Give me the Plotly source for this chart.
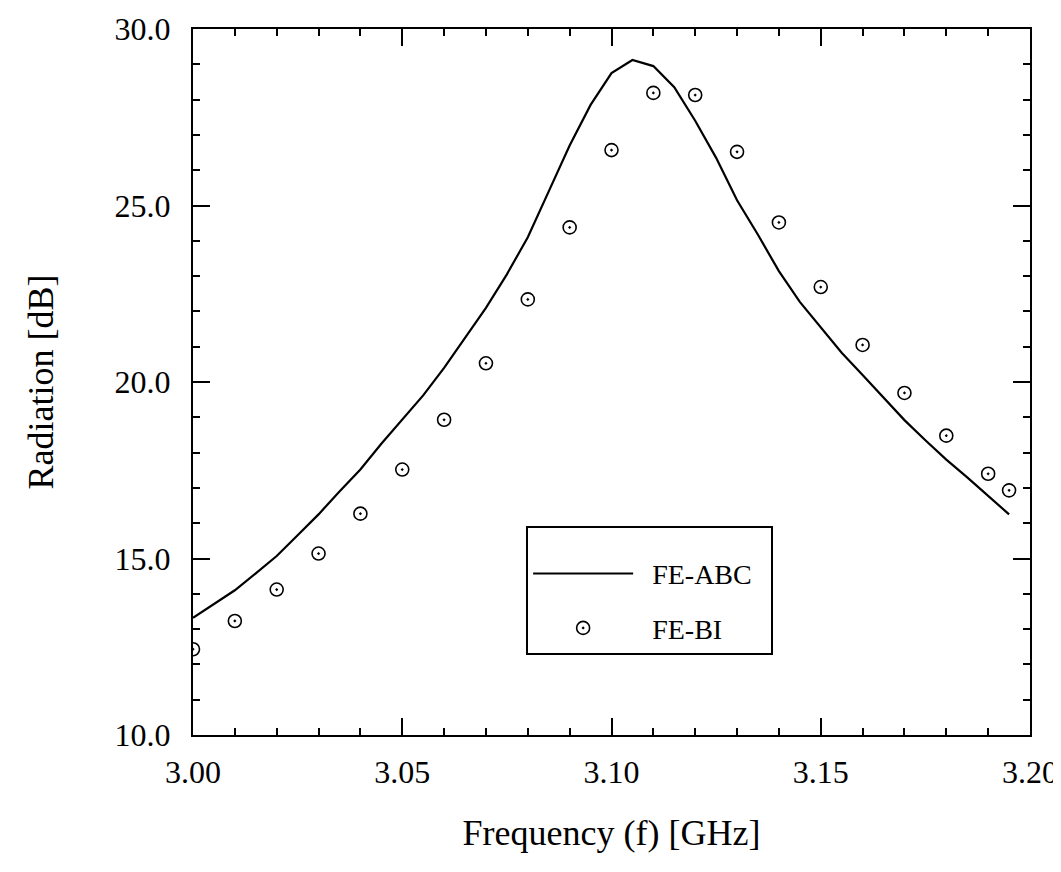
import plotly.graph_objects as go

# FE-ABC curve (solid line)
freq_abc = [3.000, 3.005, 3.010, 3.015, 3.020, 3.025, 3.030, 3.035, 3.040, 3.045,
            3.050, 3.055, 3.060, 3.065, 3.070, 3.075, 3.080, 3.085, 3.090, 3.095,
            3.100, 3.105, 3.110, 3.115, 3.120, 3.125, 3.130, 3.135, 3.140, 3.145,
            3.150, 3.155, 3.160, 3.165, 3.170, 3.175, 3.180, 3.185, 3.190, 3.195]
rad_abc = [13.32, 13.70, 14.10, 14.58, 15.07, 15.66, 16.25, 16.90, 17.52, 18.25,
           18.95, 19.62, 20.40, 21.25, 22.10, 23.05, 24.10, 25.40, 26.70, 27.85,
           28.75, 29.12, 28.95, 28.35, 27.40, 26.35, 25.15, 24.17, 23.14, 22.27,
           21.54, 20.83, 20.20, 19.55, 18.92, 18.35, 17.80, 17.30, 16.78, 16.25]

# FE-BI points (circle-dot markers)
freq_bi = [3.00, 3.01, 3.02, 3.03, 3.04, 3.05, 3.06, 3.07, 3.08, 3.09, 3.10,
           3.11, 3.12, 3.13, 3.14, 3.15, 3.16, 3.17, 3.18, 3.19, 3.195]
rad_bi = [12.43, 13.23, 14.12, 15.14, 16.27, 17.52, 18.93, 20.53, 22.34, 24.38, 26.57,
          28.19, 28.13, 26.52, 24.52, 22.69, 21.05, 19.69, 18.48, 17.40, 16.93]

x_ticks = [3.00, 3.05, 3.10, 3.15, 3.20]
y_ticks = [10.0, 15.0, 20.0, 25.0, 30.0]

FONT = "Liberation Serif"
PAD = "\u00a0\u00a0"

fig = go.Figure()
fig.add_trace(go.Scatter(
    x=freq_abc, y=rad_abc, mode="lines", name=PAD + "FE-ABC" + PAD, legendgroup="a",
    line=dict(color="black", width=2.2),
))
fig.add_trace(go.Scatter(
    x=freq_bi, y=rad_bi, mode="markers", name=PAD + "FE-BI", legendgroup="b",
    marker=dict(symbol="circle-open-dot", size=13, color="black",
                line=dict(color="black", width=1.6)),
))

axis_common = dict(
    showline=True, linecolor="black", linewidth=2, mirror="allticks",
    ticks="inside", ticklen=17, tickwidth=1.6, tickcolor="black",
    showgrid=False, zeroline=False, automargin=False,
    tickfont=dict(family=FONT, size=32, color="black"),
)

fig.update_xaxes(
    range=[3.0, 3.2], tickvals=x_ticks, ticktext=[f"{v:.2f}" for v in x_ticks],
    minor=dict(dtick=0.01, tick0=3.0, ticks="inside", ticklen=7, tickwidth=1.6,
               tickcolor="black", showgrid=False),
    title=dict(text="Frequency (f) [GHz]", font=dict(family=FONT, size=36, color="black"),
               standoff=30),
    ticklabelstandoff=8,
    **axis_common,
)
fig.update_yaxes(
    range=[10, 30], tickvals=y_ticks, ticktext=[f"{v:.1f}" for v in y_ticks],
    minor=dict(dtick=1, tick0=10, ticks="inside", ticklen=7, tickwidth=1.6,
               tickcolor="black", showgrid=False),
    title=dict(text="Radiation [dB]", font=dict(family=FONT, size=36, color="black"),
               standoff=50),
    ticklabelstandoff=14,
    **axis_common,
)

fig.update_layout(
    width=1061, height=872,
    margin=dict(l=185, r=39, t=21, b=145, autoexpand=False),
    paper_bgcolor="white", plot_bgcolor="white",
    showlegend=True,
    legend=dict(
        x=0.398, y=0.296, xanchor="left", yanchor="top",
        bordercolor="black", borderwidth=2, bgcolor="white",
        font=dict(family=FONT, size=28, color="black"),
        itemwidth=100, tracegroupgap=15,
        title=dict(text="\u00a0", font=dict(size=16)),
    ),
)

fig.write_html("out.html")
